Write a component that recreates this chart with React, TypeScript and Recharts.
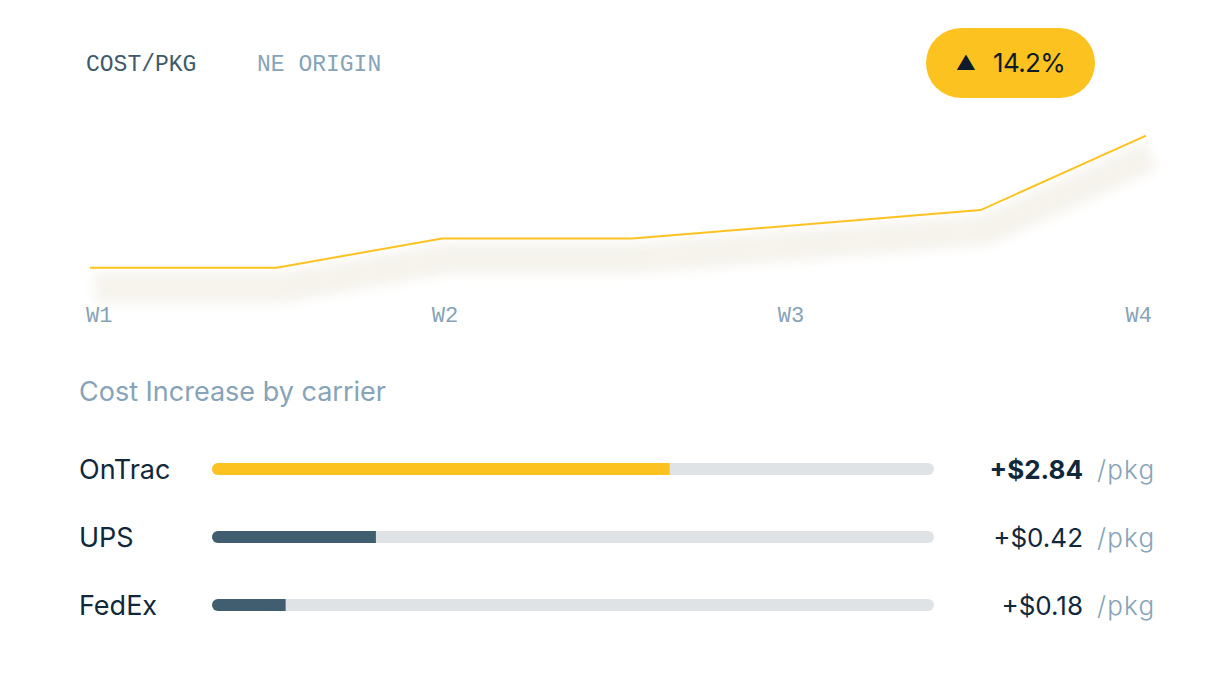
import { Bar, BarChart, Cell, Line, LineChart, XAxis, YAxis } from "recharts"

const weeks = ["W1", "W2", "W3", "W4"]
const weekTicks = [0, 1, 2, 3]
const samplePos = [0, 0.53, 1.0, 1.54, 2.53, 3.0]
const costPerPkg = [20.0, 20.0, 20.63, 20.63, 21.24, 22.84]
const changePct = 14.2

const carriers = ["OnTrac", "UPS", "FedEx"]
const increasePerPkg = [2.84, 0.42, 0.18]
const barShare = [63.4, 22.7, 10.2]

const lineData = samplePos.map((x, i) => ({ x, cost: costPerPkg[i] }))
const carrierData = carriers.map((name, i) => ({ name, share: barShare[i], inc: increasePerPkg[i] }))

const SANS = "Inter, 'Noto Sans', sans-serif"
const MONO = "'Liberation Mono', 'DejaVu Sans Mono', monospace"
const YELLOW = "#fcc320"
const SLATE = "#405e6f"
const MUTED = "#86a3b8"
const INK = "#10283a"

// W1 sits flush left, W4 flush right, the middle two are centred
const tickShift = [-4, 3, -3, 6]

function WeekTick(props: any) {
  const { x, y, payload, index } = props
  const last = index === weeks.length - 1
  const anchor = index === 0 ? "start" : last ? "end" : "middle"
  return (
    <text x={x + tickShift[index]} y={y} dy={23} textAnchor={anchor} fill={MUTED} fontFamily={MONO} fontSize={22}>
      {weeks[payload.value]}
    </text>
  )
}

function CarrierTick(props: any) {
  const { y, payload, index } = props
  const row = carrierData[index] ?? carrierData.find((d) => d.name === payload.value)
  const bold = index === 0
  return (
    <g>
      <text x={79} y={y} dominantBaseline="central" fill={INK} fontFamily={SANS} fontSize={27}>
        {payload.value}
      </text>
      <text
        x={1083}
        y={y}
        dominantBaseline="central"
        textAnchor="end"
        fill={INK}
        fontFamily={SANS}
        fontSize={26}
        fontWeight={bold ? 700 : 400}
      >
        +${row.inc.toFixed(2)}
      </text>
      <text
        x={1097}
        y={y}
        dominantBaseline="central"
        fill={MUTED}
        fontFamily={SANS}
        fontSize={26}
        fontWeight={300}
        letterSpacing={1.2}
      >
        /pkg
      </text>
    </g>
  )
}

export default function App() {
  return (
    <div style={{ position: "absolute", left: 0, top: 0, width: 1226, height: 676, background: "#fff", overflow: "hidden" }}>
      <div style={{ position: "absolute", left: 86, top: 54, fontFamily: MONO, fontSize: 23, color: "#3e5a6b", lineHeight: 1 }}>
        COST/PKG
      </div>
      <div style={{ position: "absolute", left: 257, top: 54, fontFamily: MONO, fontSize: 23, color: MUTED, lineHeight: 1 }}>
        NE ORIGIN
      </div>

      <div
        style={{
          position: "absolute",
          left: 926,
          top: 28,
          width: 169,
          height: 70,
          borderRadius: 35,
          background: YELLOW,
          display: "flex",
          alignItems: "center",
          justifyContent: "center",
          gap: 17,
          color: "#0d1b2a",
          fontFamily: SANS,
        }}
      >
        <span style={{ fontSize: 20, lineHeight: 1 }}>▲</span>
        <span style={{ fontSize: 26, lineHeight: 1, letterSpacing: -0.6 }}>{changePct.toFixed(1)}%</span>
      </div>

      <div style={{ position: "absolute", left: 0, top: 105 }}>
        <LineChart width={1226} height={226} data={lineData} margin={{ top: 0, right: 80, left: 90, bottom: 0 }}>
          <defs>
            <filter id="lineShadow" x="-5%" y="-60%" width="110%" height="320%">
              <feOffset dx="5" dy="20" />
              <feGaussianBlur stdDeviation="6" />
            </filter>
          </defs>
          <XAxis
            type="number"
            dataKey="x"
            domain={[0, 3]}
            ticks={weekTicks}
            axisLine={false}
            tickLine={false}
            height={40}
            tick={<WeekTick />}
          />
          <YAxis hide domain={[19.5, 23.5]} />
          <Line
            dataKey="cost"
            type="linear"
            stroke="#f5f3ec"
            strokeWidth={30}
            dot={false}
            activeDot={false}
            filter="url(#lineShadow)"
            isAnimationActive={false}
          />
          <Line dataKey="cost" type="linear" stroke={YELLOW} strokeWidth={2} dot={false} activeDot={false} isAnimationActive={false} />
        </LineChart>
      </div>

      <div style={{ position: "absolute", left: 79, top: 378, fontFamily: SANS, fontSize: 27, color: MUTED, lineHeight: 1 }}>
        Cost Increase by carrier
      </div>

      <div style={{ position: "absolute", left: 0, top: 435 }}>
        <BarChart
          width={1226}
          height={204}
          data={carrierData}
          layout="vertical"
          margin={{ top: 0, right: 292, left: 0, bottom: 0 }}
        >
          <XAxis type="number" domain={[0, 100]} hide />
          <YAxis type="category" dataKey="name" width={212} axisLine={false} tickLine={false} tick={<CarrierTick />} />
          <Bar
            dataKey="share"
            barSize={12}
            radius={[6, 0, 0, 6]}
            background={{ fill: "#dfe3e6", radius: 6 }}
            isAnimationActive={false}
          >
            {carrierData.map((d, i) => (
              <Cell key={d.name} fill={i === 0 ? YELLOW : SLATE} />
            ))}
          </Bar>
        </BarChart>
      </div>
    </div>
  )
}
